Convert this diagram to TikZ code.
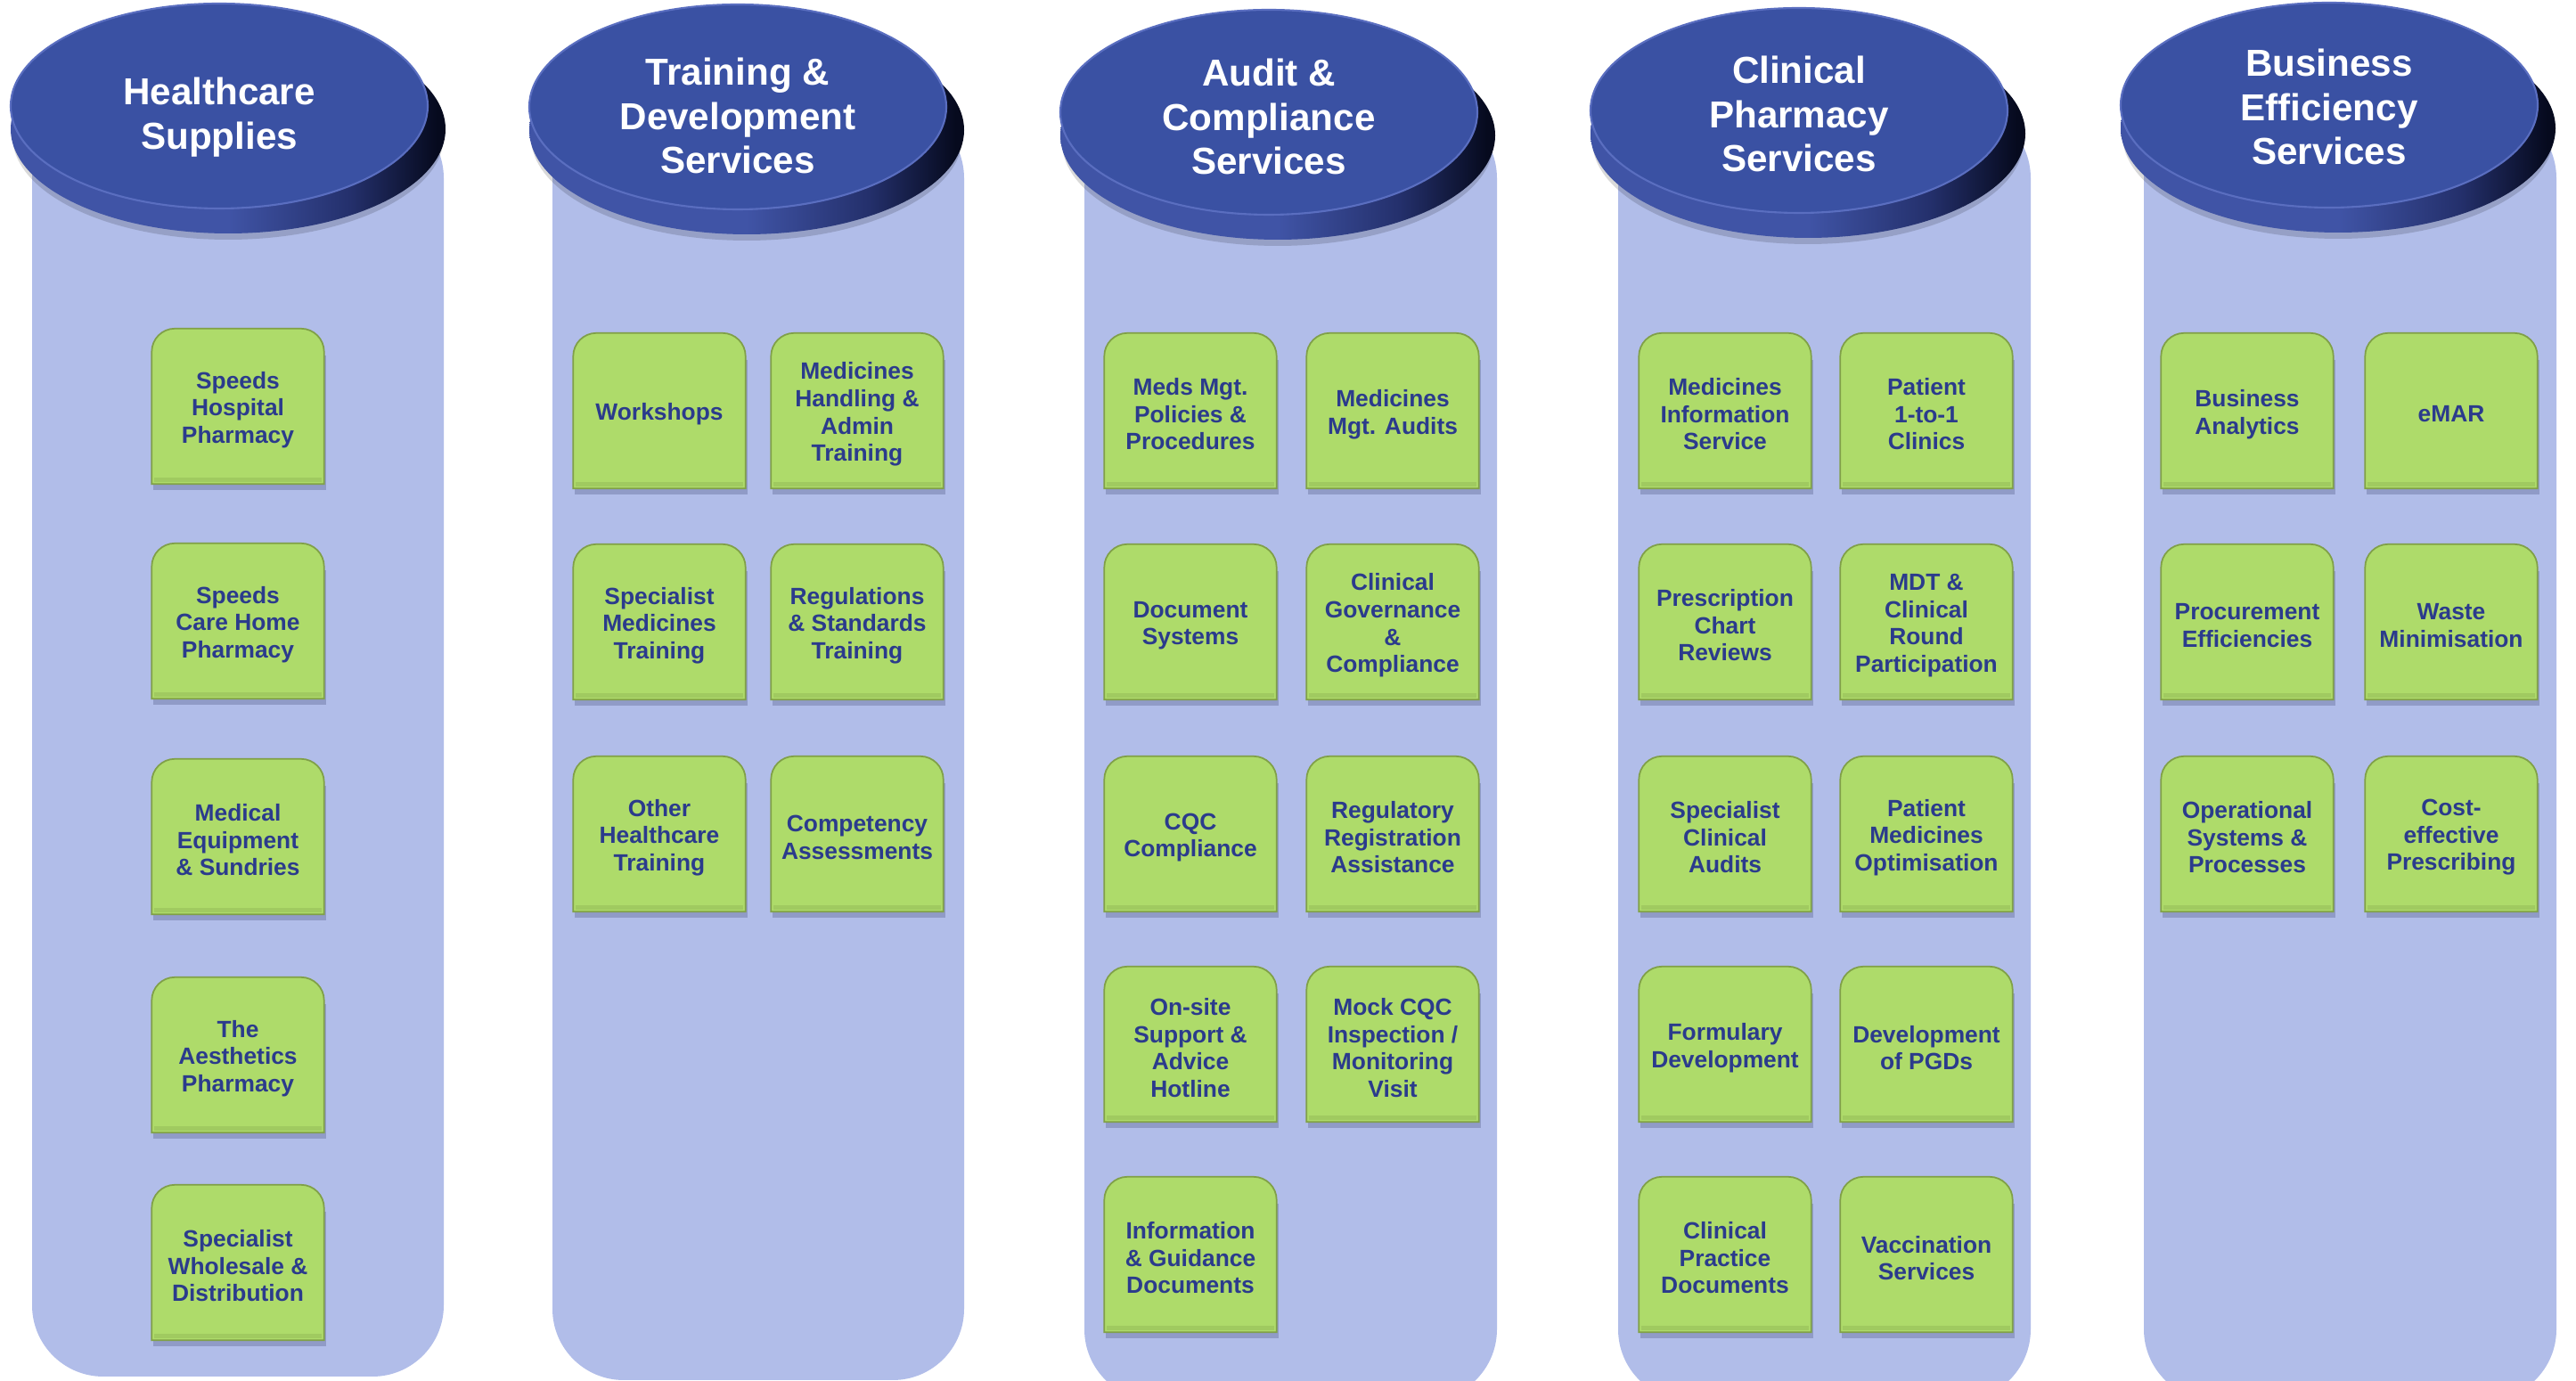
\documentclass[tikz,border=0pt]{standalone}
\usepackage{fontspec}
\setmainfont{Liberation Sans}
\usetikzlibrary{shapes.geometric}
\pgfdeclarelayer{bg}
\pgfsetlayers{bg,main}
\definecolor{colfill}{RGB}{177,189,233}
\definecolor{face}{RGB}{58,81,163}
\definecolor{facerim}{RGB}{90,110,192}
\definecolor{depthlight}{RGB}{64,84,166}
\definecolor{depthmid}{RGB}{36,48,108}
\definecolor{depthdark}{RGB}{6,10,30}
\definecolor{boxgreen}{RGB}{174,219,106}
\definecolor{boxedge}{RGB}{128,160,72}
\definecolor{boxdark}{RGB}{160,202,96}
\definecolor{boxtext}{RGB}{43,59,140}
\definecolor{boxshade}{RGB}{105,115,158}
\pgfdeclarehorizontalshading{disc}{100bp}{color(0bp)=(depthlight); color(50bp)=(depthlight); color(64bp)=(depthmid); color(74bp)=(depthdark); color(100bp)=(depthdark)}

\begin{document}
\begin{tikzpicture}[
  hdr/.style={ellipse, fill=face, draw=facerim, line width=0.6pt, minimum width=4.68cm, minimum height=2.3cm,
    inner sep=0pt},
  hdrtext/.style={align=center, text=white, font=\bfseries\fontsize{12}{14.2}\selectfont},
  svc/.style={rectangle, minimum width=1.92cm, minimum height=1.73cm, inner sep=0pt, align=center,
    text=boxtext, font=\bfseries\fontsize{7.5}{8.7}\selectfont},
  column/.style={fill=colfill, rounded corners=0.8cm}]

\useasboundingbox (0,0) rectangle (28.91,15.50);

\begin{pgfonlayer}{bg}
\fill[white] (0,0) rectangle (28.91,15.50);
\begin{scope}
\clip (0,0) rectangle (28.91,15.50);
\fill[column] (0.36,0.05) rectangle (4.98,14.3);
\fill[column] (6.20,0.01) rectangle (10.82,14.3);
\fill[column] (12.17,-0.22) rectangle (16.80,14.3);
\fill[column] (18.16,-0.22) rectangle (22.79,14.3);
\fill[column] (24.06,-0.22) rectangle (28.69,14.3);
\end{scope}
\end{pgfonlayer}

\node[hdr, label={[hdrtext, yshift=-0.13cm]center:{Healthcare\\Supplies}}] (hHS) at (2.46,14.31) {};
\node[hdr, label={[hdrtext, yshift=-0.10cm]center:{Training \&\\Development\\Services}}] (hTD) at (8.28,14.30) {};
\node[hdr, label={[hdrtext, yshift=-0.05cm]center:{Audit \&\\Compliance\\Services}}] (hAC) at (14.24,14.24) {};
\node[hdr, label={[hdrtext, yshift=-0.04cm]center:{Clinical\\Pharmacy\\Services}}] (hCP) at (20.19,14.26) {};
\node[hdr, label={[hdrtext, yshift=-0.02cm]center:{Business\\Efficiency\\Services}}] (hBE) at (26.14,14.32) {};

\node[svc] (hs1) at (2.67,10.90) {Speeds\\Hospital\\Pharmacy};
\node[svc] (hs2) at (2.67,8.49) {Speeds\\Care Home\\Pharmacy};
\node[svc] (hs3) at (2.67,6.07) {Medical\\Equipment\\\& Sundries};
\node[svc] (hs4) at (2.67,3.62) {The\\Aesthetics\\Pharmacy};
\node[svc] (hs5) at (2.67,1.29) {Specialist\\Wholesale \&\\Distribution};

\node[svc] (td1) at (7.40,10.85) {Workshops};
\node[svc] (td2) at (9.62,10.85) {Medicines\\Handling \&\\Admin\\Training};
\node[svc] (td3) at (7.40,8.48) {Specialist\\Medicines\\Training};
\node[svc] (td4) at (9.62,8.48) {Regulations\\\& Standards\\Training};
\node[svc] (td5) at (7.40,6.10) {Other\\Healthcare\\Training};
\node[svc] (td6) at (9.62,6.10) {Competency\\Assessments};

\node[svc] (ac1) at (13.36,10.85) {Meds Mgt.\\Policies \&\\Procedures};
\node[svc] (ac2) at (15.63,10.85) {Medicines\\Mgt. Audits};
\node[svc] (ac3) at (13.36,8.48) {Document\\Systems};
\node[svc] (ac4) at (15.63,8.48) {Clinical\\Governance\\\&\\Compliance};
\node[svc] (ac5) at (13.36,6.10) {CQC\\Compliance};
\node[svc] (ac6) at (15.63,6.10) {Regulatory\\Registration\\Assistance};
\node[svc] (ac7) at (13.36,3.74) {On-site\\Support \&\\Advice\\Hotline};
\node[svc] (ac8) at (15.63,3.74) {Mock CQC\\Inspection /\\Monitoring\\Visit};
\node[svc] (ac9) at (13.36,1.38) {Information\\\& Guidance\\Documents};

\node[svc] (cp1) at (19.36,10.85) {Medicines\\Information\\Service};
\node[svc] (cp2) at (21.62,10.85) {Patient\\1-to-1\\Clinics};
\node[svc] (cp3) at (19.36,8.48) {Prescription\\Chart\\Reviews};
\node[svc] (cp4) at (21.62,8.48) {MDT \&\\Clinical\\Round\\Participation};
\node[svc] (cp5) at (19.36,6.10) {Specialist\\Clinical\\Audits};
\node[svc] (cp6) at (21.62,6.10) {Patient\\Medicines\\Optimisation};
\node[svc] (cp7) at (19.36,3.74) {Formulary\\Development};
\node[svc] (cp8) at (21.62,3.74) {Development\\of PGDs};
\node[svc] (cp9) at (19.36,1.38) {Clinical\\Practice\\Documents};
\node[svc] (cp10) at (21.62,1.38) {Vaccination\\Services};

\node[svc] (be1) at (25.22,10.85) {Business\\Analytics};
\node[svc] (be2) at (27.51,10.85) {eMAR};
\node[svc] (be3) at (25.22,8.48) {Procurement\\Efficiencies};
\node[svc] (be4) at (27.51,8.48) {Waste\\Minimisation};
\node[svc] (be5) at (25.22,6.10) {Operational\\Systems \&\\Processes};
\node[svc] (be6) at (27.51,6.10) {Cost-\\effective\\Prescribing};

\begin{pgfonlayer}{bg}
\foreach \h in {hHS,hTD,hAC,hCP,hBE}{
  \fill[black, opacity=0.15] ([shift={(0.1,-0.34)}]\h.center) ellipse [x radius=2.42cm, y radius=1.16cm];
  \shade[shading=disc] ([shift={(0.1,-0.26)}]\h.center) ellipse [x radius=2.44cm, y radius=1.17cm];
}
\foreach \b in {hs1,hs2,hs3,hs4,hs5,td1,td2,td3,td4,td5,td6,ac1,ac2,ac3,ac4,ac5,ac6,ac7,ac8,ac9,
    cp1,cp2,cp3,cp4,cp5,cp6,cp7,cp8,cp9,cp10,be1,be2,be3,be4,be5,be6}{
  \fill[boxshade, opacity=0.45] ([shift={(0.02,-0.03)}]\b.south west) rectangle ([shift={(0.02,-0.26)}]\b.north east);
  \fill[boxgreen, draw=boxedge, line width=0.5pt] ([yshift=0.04cm]\b.south west) -- ([yshift=-0.22cm]\b.north west)
    arc[start angle=180, end angle=90, radius=0.26cm] -- ([shift={(-0.26cm,0.04cm)}]\b.north east)
    arc[start angle=90, end angle=0, radius=0.26cm] -- ([yshift=0.04cm]\b.south east) -- cycle;
  \fill[boxdark] ([shift={(0.03,0.06)}]\b.south west) rectangle ([shift={(-0.03,0.11)}]\b.south east);
}
\end{pgfonlayer}
\end{tikzpicture}
\end{document}
